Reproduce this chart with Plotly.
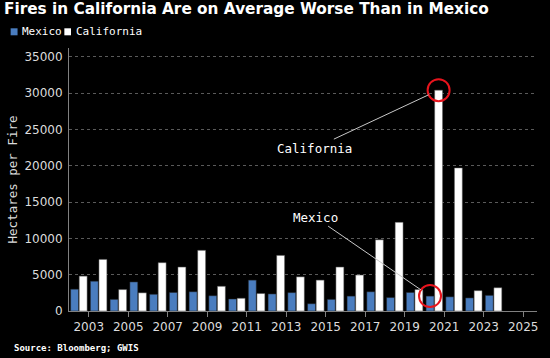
import plotly.graph_objects as go

years = list(range(2002, 2024))
mexico = [3000, 4100, 1600, 4000, 2300, 2550, 2650, 2100, 1650, 4250, 2350,
          2530, 1000, 1600, 2050, 2650, 1850, 2550, 2050, 1950, 1800, 2150]
california = [4800, 7100, 2950, 2500, 6650, 6050, 8350, 3400, 1750, 2400, 7650,
              4700, 4250, 6050, 4950, 9800, 12200, 2950, 30400, 19700, 2800, 3200]
tick_years = list(range(2003, 2026, 2))
tick_labels = [str(y) for y in tick_years]
y_ticks = list(range(0, 35001, 5000))
highlight_year = 2020

BLUE = "#4a7dbf"
TXT = "#dcdcdc"
MONO = "DejaVu Sans Mono"
SANS = "DejaVu Sans"

BARGAP = 0.13
GROUPGAP = 0.08

xc = [y + 0.5 for y in years]

fig = go.Figure()
fig.add_trace(go.Bar(x=xc, y=mexico, name="Mexico", marker=dict(color=BLUE, line=dict(width=0.5, color="#222"))))
fig.add_trace(go.Bar(x=xc, y=california, name="California", marker=dict(color="#ffffff", line=dict(width=0.5, color="#555"))))

W, H = 550, 358
ml, mr, mt, mb = 64, 13, 48, 47
pw, ph = W - ml - mr, H - mt - mb

def px(p):
    return (p - ml) / pw

def py(p):
    return (H - mb - p) / ph

i = years.index(highlight_year)
gw = 1 - BARGAP
mex_x = xc[i] - gw / 4
cal_x = xc[i] + gw / 4
mex_y = mexico[i]
cal_y = california[i]

shapes = []
for (cx, cy) in [(cal_x, cal_y), (mex_x, mex_y)]:
    shapes.append(dict(type="circle", xref="x", yref="y", xsizemode="pixel", ysizemode="pixel",
                       xanchor=cx, yanchor=cy, x0=-11, x1=11, y0=-11, y1=11,
                       line=dict(color="#e8141d", width=2)))
# legend squares
shapes.append(dict(type="rect", xref="paper", yref="paper", x0=px(5), x1=px(12), y0=py(35.3), y1=py(28.3),
                   fillcolor=BLUE, line=dict(width=0)))
shapes.append(dict(type="rect", xref="paper", yref="paper", x0=px(59.3), x1=px(66), y0=py(35.3), y1=py(28.3),
                   fillcolor="#ffffff", line=dict(width=0)))

annotations = [
    dict(x=cal_x, y=cal_y, xref="x", yref="y", text="California", showarrow=True, arrowhead=0,
         arrowwidth=1, arrowcolor="#c8c8c8", ax=-124, ay=58, standoff=11,
         font=dict(family=MONO, size=12.5, color="#ffffff")),
    dict(x=mex_x, y=mex_y, xref="x", yref="y", text="Mexico", showarrow=True, arrowhead=0,
         arrowwidth=1, arrowcolor="#c8c8c8", ax=-115, ay=-79, standoff=11,
         font=dict(family=MONO, size=12.5, color="#ffffff")),
    dict(x=px(14), y=py(32), xref="paper", yref="paper", text="Mexico", showarrow=False,
         xanchor="left", yanchor="middle", font=dict(family=MONO, size=11, color="#ffffff")),
    dict(x=px(69.3), y=py(32), xref="paper", yref="paper", text="California", showarrow=False,
         xanchor="left", yanchor="middle", font=dict(family=MONO, size=11, color="#ffffff")),
    dict(x=px(6), y=py(348), xref="paper", yref="paper", text="<b>Source: Bloomberg; GWIS</b>",
         showarrow=False, xanchor="left", yanchor="middle",
         font=dict(family=MONO, size=9, color="#ffffff")),
]

fig.update_layout(
    width=W, height=H,
    margin=dict(l=ml, r=mr, t=mt, b=mb),
    paper_bgcolor="#000000", plot_bgcolor="#000000",
    barmode="group", bargap=BARGAP, bargroupgap=GROUPGAP,
    showlegend=False,
    title=dict(text="<b>Fires in California Are on Average Worse Than in Mexico</b>",
               x=4 / W, xanchor="left", xref="container", y=1 - 3 / H, yanchor="top", yref="container",
               font=dict(family=SANS, size=15.3, color="#ffffff")),
    xaxis=dict(range=[2002, 2025.7], tickvals=tick_years, ticktext=tick_labels,
               showgrid=False, zeroline=False, showline=True, linecolor="#808080", linewidth=1,
               ticks="outside", ticklen=5, tickcolor="#808080",
               tickfont=dict(family=SANS, size=12, color=TXT)),
    yaxis=dict(range=[0, 36200], tickvals=y_ticks, ticktext=[str(v) for v in y_ticks],
               showgrid=True, gridcolor="#5a5a5a", griddash="dot", gridwidth=1,
               zeroline=False, showline=True, linecolor="#808080", linewidth=1, ticks="",
               ticklabelstandoff=3,
               tickfont=dict(family=SANS, size=12, color=TXT),
               title=dict(text="Hectares per Fire", standoff=4,
                          font=dict(family=MONO, size=12.5, color=TXT))),
    shapes=shapes, annotations=annotations,
)

fig.write_html("out.html", config={"displayModeBar": False},
               post_script="document.body.style.margin='0';document.body.style.background='#000';")
